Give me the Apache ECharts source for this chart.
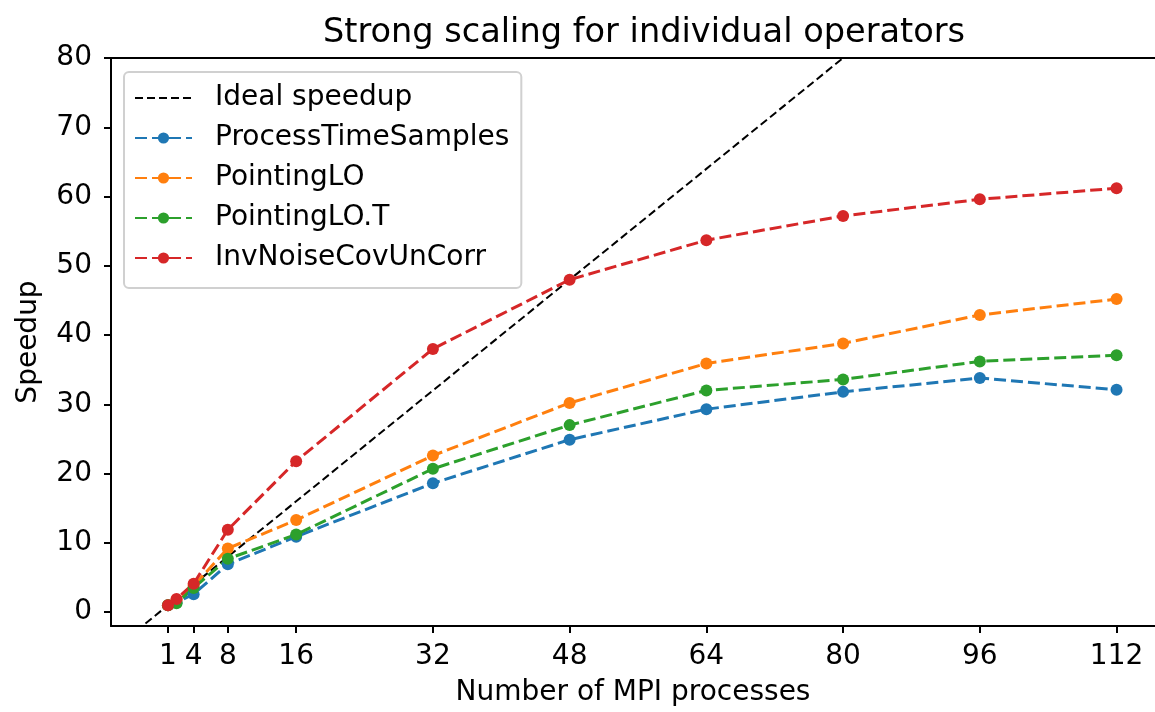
<!DOCTYPE html>
<html>
<head>
<meta charset="utf-8">
<script src="https://cdn.jsdelivr.net/npm/echarts@6/dist/echarts.min.js"></script>
<style>
  html, body { margin: 0; padding: 0; background: #fff; }
  #chart { width: 1155px; height: 712px; }
</style>
</head>
<body>
<div id="chart"></div>
<script>
// number of MPI processes
const procs = [1, 2, 4, 8, 16, 32, 48, 64, 80, 96, 112]
const xTicks = [1, 4, 8, 16, 32, 48, 64, 80, 96, 112]
const yTicks = [0, 10, 20, 30, 40, 50, 60, 70, 80]

// ideal speedup line (y = x), clipped by the axes
const idealX = [-6, 120]
const idealY = [-6, 120]

const processTimeSamples = [1.0, 1.4, 2.6, 6.9, 10.9, 18.6, 24.9, 29.3, 31.8, 33.8, 32.1]
const pointingLO = [1.0, 1.8, 3.8, 9.2, 13.3, 22.6, 30.2, 35.9, 38.8, 42.9, 45.2]
const pointingLOT = [1.0, 1.3, 3.5, 7.7, 11.2, 20.7, 27.0, 32.0, 33.6, 36.2, 37.1]
const invNoiseCovUnCorr = [1.0, 1.9, 4.1, 11.9, 21.8, 38.0, 48.0, 53.7, 57.2, 59.6, 61.2]

const font = 'DejaVu Sans'
const chart = echarts.init(document.getElementById('chart'))

const zip = (xs, ys) => xs.map((x, i) => [x, ys[i]])

function dashed (name, color, ys) {
  return {
    name: name,
    type: 'line',
    data: zip(procs, ys),
    symbol: 'circle',
    symbolSize: 12,
    itemStyle: { color: color },
    lineStyle: { color: color, width: 3, type: [12, 5] },
    emphasis: { disabled: true },
    animation: false,
    z: 3
  }
}

const option = {
  backgroundColor: '#fff',
  title: {
    text: 'Strong scaling for individual operators',
    left: 639,
    textAlign: 'center',
    top: 11,
    textStyle: { fontFamily: font, fontSize: 33.6, fontWeight: 'normal', color: '#000' }
  },
  legend: {
    orient: 'vertical',
    left: 124,
    top: 72,
    padding: [10, 12, 14, 10],
    itemGap: 8,
    itemWidth: 57,
    itemHeight: 14,
    borderColor: '#d0d0d0',
    borderWidth: 2,
    borderRadius: 5,
    backgroundColor: 'rgba(255,255,255,0.8)',
    textStyle: { fontFamily: font, fontSize: 28, color: '#000', lineHeight: 32, padding: [0, 0, 0, 18] },
    data: [
      { name: 'Ideal speedup', itemStyle: { opacity: 0 } },
      'ProcessTimeSamples', 'PointingLO', 'PointingLO.T', 'InvNoiseCovUnCorr'
    ]
  },
  grid: { left: 111, right: 0, top: 58, bottom: 86, containLabel: false, outerBoundsMode: 'none' },
  xAxis: [{
    type: 'value',
    min: -5.67,
    max: 116.5,
    name: 'Number of MPI processes',
    nameLocation: 'middle',
    nameGap: 53,
    nameTextStyle: { fontFamily: font, fontSize: 28, color: '#000' },
    axisLine: { show: true, onZero: false, lineStyle: { color: '#000', width: 2 } },
    axisTick: { show: true, inside: false, length: 7, customValues: xTicks, lineStyle: { color: '#000', width: 2 } },
    axisLabel: { customValues: xTicks, fontFamily: font, fontSize: 28, color: '#000', margin: 17 },
    splitLine: { show: false }
  }, {
    type: 'value',
    position: 'top',
    min: -5.67,
    max: 116.5,
    axisLine: { show: true, onZero: false, lineStyle: { color: '#000', width: 2 } },
    axisTick: { show: false },
    axisLabel: { show: false },
    splitLine: { show: false }
  }],
  yAxis: {
    type: 'value',
    min: -2,
    max: 80,
    name: 'Speedup',
    nameLocation: 'middle',
    nameGap: 68,
    nameTextStyle: { fontFamily: font, fontSize: 28, color: '#000' },
    axisLine: { show: true, onZero: false, lineStyle: { color: '#000', width: 2 } },
    axisTick: { show: true, inside: false, length: 7, customValues: yTicks, lineStyle: { color: '#000', width: 2 } },
    axisLabel: { customValues: yTicks, fontFamily: font, fontSize: 28, color: '#000', margin: 19 },
    splitLine: { show: false }
  },
  series: [
    {
      name: 'Ideal speedup',
      type: 'line',
      data: zip(idealX, idealY),
      symbol: 'none',
      itemStyle: { color: '#000' },
      lineStyle: { color: '#000', width: 2, type: [8, 4] },
      emphasis: { disabled: true },
      animation: false,
      z: 2
    },
    dashed('ProcessTimeSamples', '#1f77b4', processTimeSamples),
    dashed('PointingLO', '#ff7f0e', pointingLO),
    dashed('PointingLO.T', '#2ca02c', pointingLOT),
    dashed('InvNoiseCovUnCorr', '#d62728', invNoiseCovUnCorr)
  ]
}

chart.setOption(option)
</script>
</body>
</html>
